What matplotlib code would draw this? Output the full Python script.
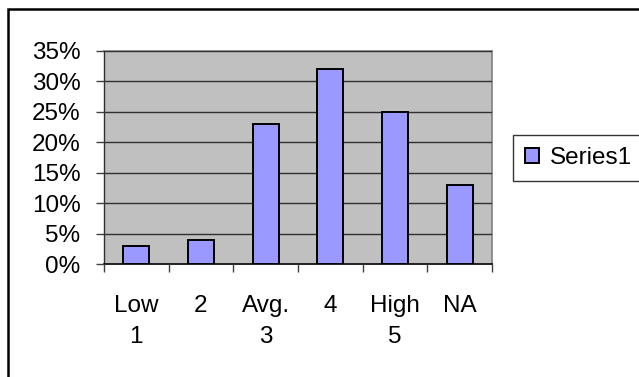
import matplotlib
matplotlib.use('Agg')
from matplotlib import pyplot as plt
from matplotlib.patches import Rectangle
from matplotlib.ticker import FuncFormatter, FixedLocator
import numpy as np

categories = ['Low\n1', '2', 'Avg.\n3', '4', 'High\n5', 'NA']
shares = [0.03, 0.04, 0.23, 0.32, 0.25, 0.13]
series_name = 'Series1'
y_ticks = [0, 0.05, 0.10, 0.15, 0.20, 0.25, 0.30, 0.35]

plt.rcParams['font.family'] = ['Liberation Sans', 'DejaVu Sans']
FS = 17.5

fig = plt.figure(figsize=(6.39, 3.77), dpi=100)
ax = fig.add_axes([104 / 639, 1 - 264.3 / 377, 388 / 639, 213.3 / 377])
ax.set_facecolor('#C0C0C0')

x = np.arange(len(categories))
bars = ax.bar(x, shares, width=0.4, color='#9999FF', edgecolor='black',
              linewidth=1.4, zorder=3, label=series_name)

ax.set_xlim(-0.5, len(categories) - 0.5)
ax.set_ylim(0, 0.35)
ax.set_yticks(y_ticks)
ax.yaxis.set_major_formatter(FuncFormatter(lambda v, p: f'{v * 100:.0f}%'))
ax.yaxis.grid(True, color='#303030', linewidth=1.0, zorder=1)
ax.set_axisbelow(False)

# labels sit at category centres, tick marks at category boundaries
ax.set_xticks(x)
ax.set_xticklabels(categories, linespacing=1.55, va='top')
ax.xaxis.set_minor_locator(FixedLocator(np.arange(-0.5, len(categories), 1)))
ax.tick_params(axis='x', which='major', length=0, pad=22, labelsize=FS)
ax.tick_params(axis='x', which='minor', length=6, width=1.0, direction='out', color='#404040')
ax.tick_params(axis='y', length=6, width=1.0, direction='out', pad=11, labelsize=FS, color='#404040')

for side in ['top', 'right']:
    ax.spines[side].set_color('#808080')
    ax.spines[side].set_linewidth(1.2)
ax.spines['left'].set_color('#303030')
ax.spines['bottom'].set_color('black')
ax.spines['left'].set_linewidth(1.0)
ax.spines['bottom'].set_linewidth(1.2)

leg = fig.legend(handles=[bars], labels=[series_name], loc='center left',
                 bbox_to_anchor=(513 / 639, 1 - 158 / 377), fontsize=FS,
                 handlelength=0.55, handleheight=0.55, handletextpad=0.45,
                 borderpad=0.5, borderaxespad=0, fancybox=False, frameon=True)
leg.get_frame().set_edgecolor('black')
leg.get_frame().set_linewidth(1.0)

# chart area border, running off the right and bottom of the image
fig.patches.append(Rectangle((8 / 639, -0.2), 1.2, 1 - 9 / 377 + 0.2,
                             transform=fig.transFigure, fill=False,
                             edgecolor='black', linewidth=1.8))

fig.savefig('out.png', dpi=100, facecolor='white')
